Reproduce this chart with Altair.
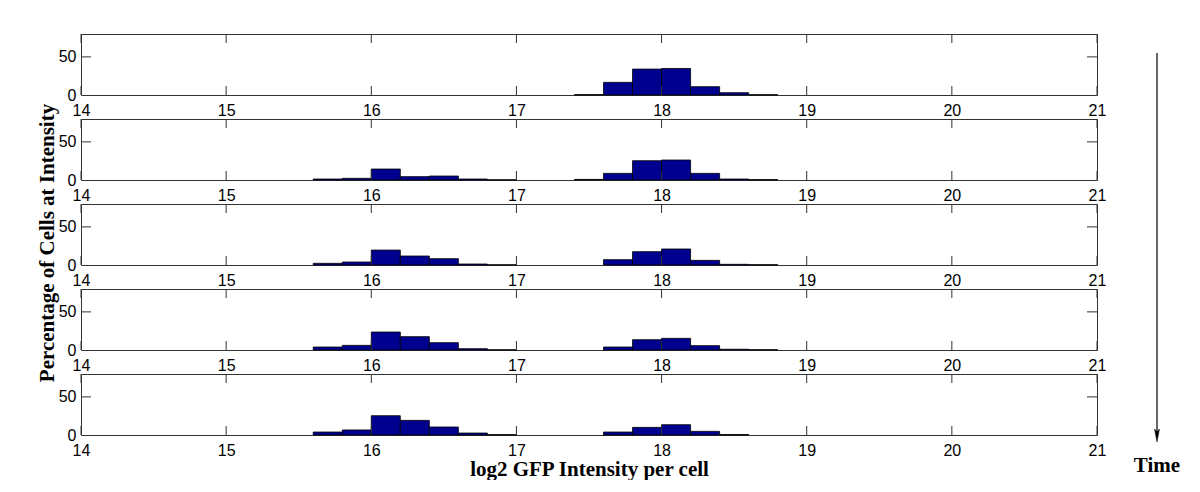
import altair as alt
import pandas as pd

# ---- data ----
bin_starts = [15.6, 15.8, 16.0, 16.2, 16.4, 16.6, 16.8, 17.4, 17.6, 17.8, 18.0, 18.2, 18.4, 18.6]
bin_width = 0.2
panel1 = [0, 0, 0, 0, 0, 0, 0, 0.5, 16.6, 34.0, 34.8, 10.9, 3.0, 0.4]
panel2 = [1.3, 2.2, 14.4, 4.4, 5.2, 1.3, 0.3, 0.8, 8.7, 25.3, 26.2, 8.7, 1.3, 0.5]
panel3 = [2.2, 3.9, 19.6, 11.8, 8.3, 1.3, 0.3, 0, 7.0, 17.5, 21.0, 6.1, 0.9, 0.4]
panel4 = [3.9, 6.1, 23.6, 17.5, 9.6, 1.7, 0.3, 0, 3.9, 13.5, 15.3, 5.7, 1.0, 0.4]
panel5 = [3.9, 6.6, 25.3, 19.2, 10.5, 2.6, 0.5, 0, 3.9, 10.0, 13.5, 4.8, 0.6, 0]
panels = [panel1, panel2, panel3, panel4, panel5]
x_ticks = [14, 15, 16, 17, 18, 19, 20, 21]
y_ticks = [0, 50]
y_inner_ticks = [50]
x_title = "log2 GFP Intensity per cell"
y_title = "Percentage of Cells at Intensity"
time_label = "Time"

rows = []
for p, vals in enumerate(panels):
    for lo, v in zip(bin_starts, vals):
        if v > 0:
            rows.append({"panel": p, "lo": lo, "hi": round(lo + bin_width, 2), "pct": v})
df = pd.DataFrame(rows)
ticks_df = pd.DataFrame({"lo": x_ticks})
yt_df = pd.DataFrame({"pct": y_inner_ticks})

W, H = 1016, 61
BOX = "#333333"
BAR = "#00008f"
SANS = "Liberation Sans"
SERIF = "Liberation Serif"

xscale = alt.Scale(domain=[14, 21], nice=False, zero=False)
yscale = alt.Scale(domain=[0, 80], nice=False)


def panel(p, last):
    xkw = dict(values=x_ticks, format="d", tickSize=0, domain=False, grid=False,
               labelPadding=7, labelFont=SANS, labelFontSize=16, labelColor="black",
               labelFlush=False, labelOverlap=False)
    if last:
        xkw.update(titleFont=SERIF, titleFontSize=21, titleFontWeight="bold",
                   titleColor="black", titleY=34, titleBaseline="middle")
    xaxis = alt.Axis(**xkw)
    yaxis = alt.Axis(values=y_ticks, tickSize=0, domain=False, grid=False, labelPadding=5,
                     labelFont=SANS, labelFontSize=16, labelColor="black",
                     labelFlush=False, labelOverlap=False)
    xt = x_title if last else None
    xenc = alt.X("lo:Q", scale=xscale, axis=xaxis, title=xt)
    yenc = alt.Y("pct:Q", scale=yscale, axis=yaxis, title=None)
    bars = alt.Chart(df).transform_filter(alt.datum.panel == p).mark_rect(
        fill=BAR, stroke="black", strokeWidth=0.8
    ).encode(x=xenc, x2="hi:Q", y=yenc, y2=alt.datum(0))
    bt = alt.Chart(ticks_df).mark_rule(color=BOX, strokeWidth=1).encode(
        x=xenc, y=alt.value(H), y2=alt.value(H - 9))
    tt = alt.Chart(ticks_df).mark_rule(color=BOX, strokeWidth=1).encode(
        x=xenc, y=alt.value(0), y2=alt.value(9))
    lt = alt.Chart(yt_df).mark_rule(color=BOX, strokeWidth=1).encode(
        y=yenc, x=alt.value(0), x2=alt.value(10))
    rt = alt.Chart(yt_df).mark_rule(color=BOX, strokeWidth=1).encode(
        y=yenc, x=alt.value(W - 10), x2=alt.value(W))
    return alt.layer(bars, bt, tt, lt, rt).properties(width=W, height=H)


stack = alt.vconcat(*[panel(i, i == len(panels) - 1) for i in range(len(panels))], spacing=-2)

TW, TH = 40, 402
title_chart = alt.Chart(pd.DataFrame({"label": [y_title]})).mark_text(
    angle=270, font=SERIF, fontSize=21, fontWeight="bold", color="black",
    align="center", baseline="middle"
).encode(text="label:N", x=alt.value(39), y=alt.value(209)).properties(
    width=TW, height=TH, view=alt.ViewBackground(stroke="transparent"))

AW, AH = 72, 445
ax = 50
arrow_df = pd.DataFrame({"label": [time_label]})
shaft = alt.Chart(arrow_df).mark_rule(color="black", strokeWidth=1.2).encode(
    x=alt.value(ax), y=alt.value(19), y2=alt.value(402))
head = alt.Chart(arrow_df).mark_point(
    shape="M 0 1 L -0.38 -1 L 0 -0.55 L 0.38 -1 Z", size=169, filled=True,
    fill="black", stroke="black", strokeWidth=0.5, opacity=1
).encode(x=alt.value(ax), y=alt.value(401.5))
tlabel = alt.Chart(arrow_df).mark_text(
    font=SERIF, fontSize=21, fontWeight="bold", color="black", align="center", baseline="middle"
).encode(text="label:N", x=alt.value(ax), y=alt.value(432))
arrow_chart = alt.layer(shaft, head, tlabel).properties(
    width=AW, height=AH, view=alt.ViewBackground(stroke="transparent"))

chart = alt.hconcat(title_chart, stack, arrow_chart, spacing=-2).properties(
    padding={"left": 0, "top": 25, "right": 0, "bottom": 0}
).configure(background="white").configure_view(stroke=BOX, strokeWidth=1)

chart.save("out.html", embed_options={"renderer": "svg", "actions": False})
